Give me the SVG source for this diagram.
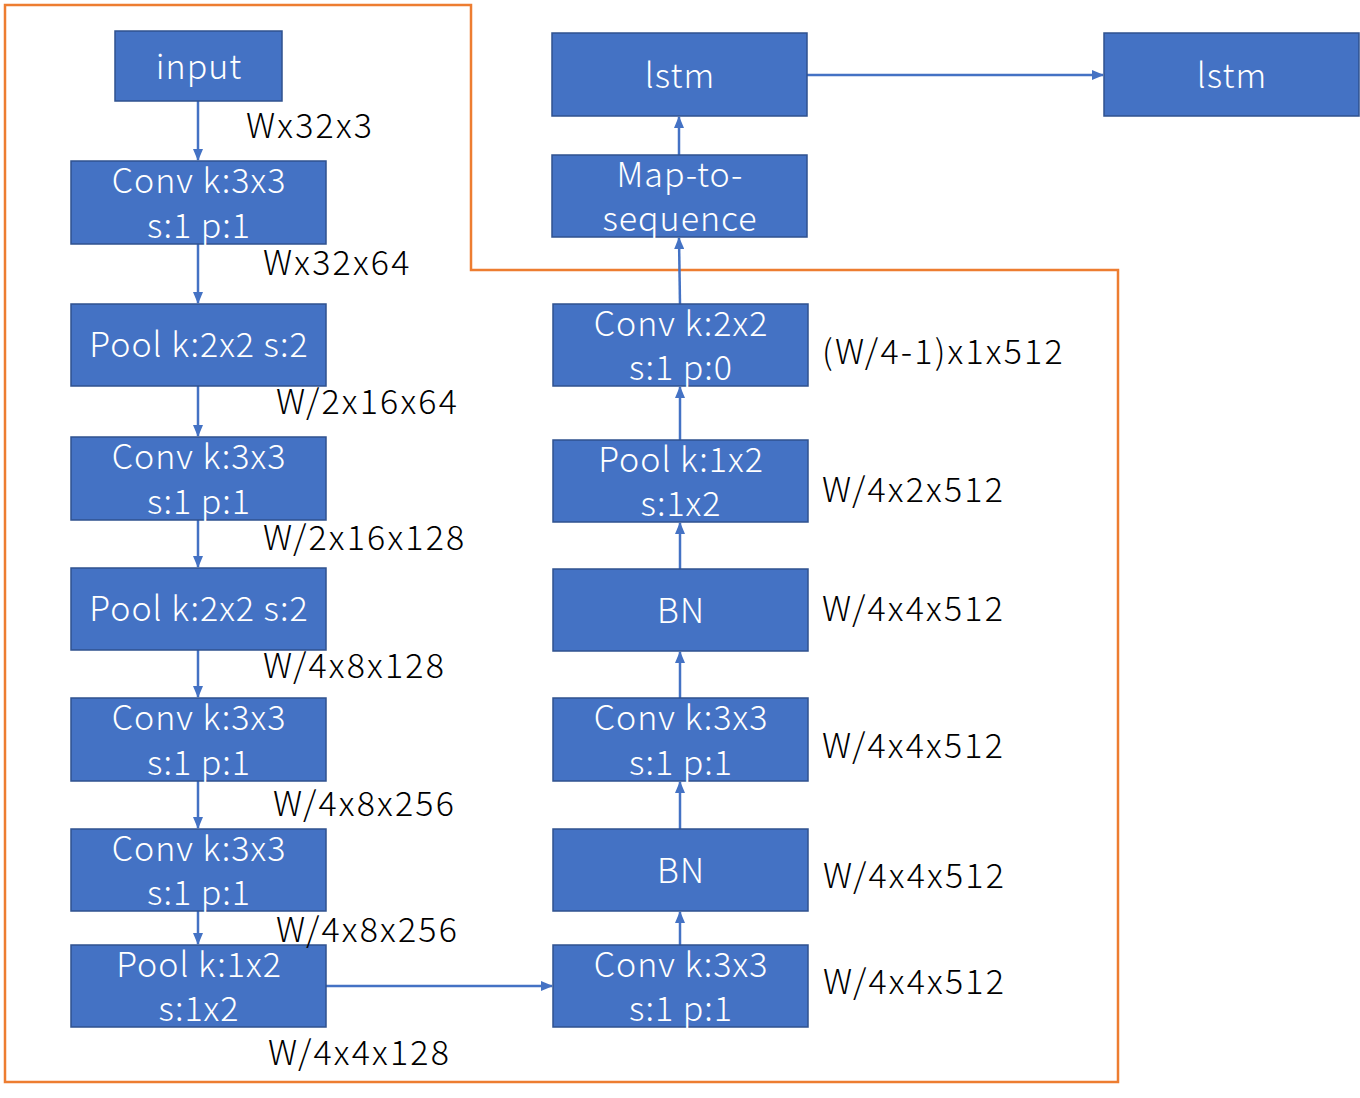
<svg xmlns="http://www.w3.org/2000/svg" width="1360" height="1098" viewBox="0 0 1360 1098">
<defs>
<style>
.box{fill:#4472C4;stroke:#2F528F;stroke-width:1.5}
.bt{fill:#ffffff;font-family:"Noto Sans CJK SC","Noto Sans",sans-serif;font-size:34px;text-anchor:middle;font-weight:300;letter-spacing:1px}
.lb{fill:#000000;font-family:"Noto Sans CJK SC","Noto Sans",sans-serif;font-size:34px;font-weight:300;letter-spacing:2.2px}
.cn{stroke:#4472C4;stroke-width:2.5;fill:none;marker-end:url(#ah)}
.frame{stroke:#ED7D31;stroke-width:2.5;fill:none}
</style>
<marker id="ah" markerWidth="12" markerHeight="10" refX="11" refY="5" orient="auto" markerUnits="userSpaceOnUse">
<path d="M0,0 L12,5 L0,10 Z" fill="#4472C4"/>
</marker>
</defs>
<rect width="1360" height="1098" fill="#ffffff"/>
<g id="frame">
<path class="frame" d="M5,5 H471 V270 H1118 V1082 H5 Z"/>
</g>
<g id="connectors">
<line class="cn" x1="198" y1="101" x2="198" y2="160"/>
<line class="cn" x1="198" y1="244" x2="198" y2="303"/>
<line class="cn" x1="198" y1="386" x2="198" y2="436"/>
<line class="cn" x1="198" y1="520" x2="198" y2="567"/>
<line class="cn" x1="198" y1="650" x2="198" y2="697"/>
<line class="cn" x1="198" y1="781" x2="198" y2="828"/>
<line class="cn" x1="198" y1="911" x2="198" y2="944"/>
<line class="cn" x1="326" y1="986" x2="552" y2="986"/>
<line class="cn" x1="680" y1="945" x2="680" y2="912"/>
<line class="cn" x1="680" y1="829" x2="680" y2="782"/>
<line class="cn" x1="680" y1="698" x2="680" y2="652"/>
<line class="cn" x1="680" y1="569" x2="680" y2="523"/>
<line class="cn" x1="680" y1="440" x2="680" y2="387"/>
<line class="cn" x1="680" y1="304" x2="679" y2="238"/>
<line class="cn" x1="679" y1="155" x2="679" y2="117"/>
<line class="cn" x1="807" y1="75" x2="1103" y2="75"/>
</g>
<g id="n-input"><rect class="box" x="115" y="31" width="167" height="70"/><text class="bt" x="199" y="79">input</text></g>
<g id="n-conv1"><rect class="box" x="71" y="161" width="255" height="83"/><text class="bt" x="199" y="193">Conv k:3x3</text><text class="bt" x="199" y="238">s:1 p:1</text></g>
<g id="n-pool1"><rect class="box" x="71" y="304" width="255" height="82"/><text class="bt" x="199" y="357">Pool k:2x2 s:2</text></g>
<g id="n-conv2"><rect class="box" x="71" y="437" width="255" height="83"/><text class="bt" x="199" y="469">Conv k:3x3</text><text class="bt" x="199" y="514">s:1 p:1</text></g>
<g id="n-pool2"><rect class="box" x="71" y="568" width="255" height="82"/><text class="bt" x="199" y="621">Pool k:2x2 s:2</text></g>
<g id="n-conv3"><rect class="box" x="71" y="698" width="255" height="83"/><text class="bt" x="199" y="730">Conv k:3x3</text><text class="bt" x="199" y="775">s:1 p:1</text></g>
<g id="n-conv4"><rect class="box" x="71" y="829" width="255" height="82"/><text class="bt" x="199" y="861">Conv k:3x3</text><text class="bt" x="199" y="905">s:1 p:1</text></g>
<g id="n-pool3"><rect class="box" x="71" y="945" width="255" height="82"/><text class="bt" x="199" y="977">Pool k:1x2</text><text class="bt" x="199" y="1021">s:1x2</text></g>
<g id="n-conv5"><rect class="box" x="553" y="945" width="255" height="82"/><text class="bt" x="681" y="977">Conv k:3x3</text><text class="bt" x="681" y="1021">s:1 p:1</text></g>
<g id="n-bn1"><rect class="box" x="553" y="829" width="255" height="82"/><text class="bt" x="681" y="883">BN</text></g>
<g id="n-conv6"><rect class="box" x="553" y="698" width="255" height="83"/><text class="bt" x="681" y="730">Conv k:3x3</text><text class="bt" x="681" y="775">s:1 p:1</text></g>
<g id="n-bn2"><rect class="box" x="553" y="569" width="255" height="82"/><text class="bt" x="681" y="623">BN</text></g>
<g id="n-pool4"><rect class="box" x="553" y="440" width="255" height="82"/><text class="bt" x="681" y="472">Pool k:1x2</text><text class="bt" x="681" y="516">s:1x2</text></g>
<g id="n-conv7"><rect class="box" x="553" y="304" width="255" height="82"/><text class="bt" x="681" y="336">Conv k:2x2</text><text class="bt" x="681" y="380">s:1 p:0</text></g>
<g id="n-map"><rect class="box" x="552" y="155" width="255" height="82"/><text class="bt" x="680" y="187" letter-spacing="3">Map-to-</text><text class="bt" x="680" y="231">sequence</text></g>
<g id="n-lstm1"><rect class="box" x="552" y="33" width="255" height="83"/><text class="bt" x="680" y="88">lstm</text></g>
<g id="n-lstm2"><rect class="box" x="1104" y="33" width="255" height="83"/><text class="bt" x="1232" y="88">lstm</text></g>
<g id="labels">
<text class="lb" x="246" y="138">Wx32x3</text>
<text class="lb" x="263" y="275">Wx32x64</text>
<text class="lb" x="276" y="414">W/2x16x64</text>
<text class="lb" x="263" y="550">W/2x16x128</text>
<text class="lb" x="263" y="678">W/4x8x128</text>
<text class="lb" x="273" y="816">W/4x8x256</text>
<text class="lb" x="276" y="942">W/4x8x256</text>
<text class="lb" x="268" y="1065">W/4x4x128</text>
<text class="lb" x="822" y="364">(W/4-1)x1x512</text>
<text class="lb" x="822" y="502">W/4x2x512</text>
<text class="lb" x="822" y="621">W/4x4x512</text>
<text class="lb" x="822" y="758">W/4x4x512</text>
<text class="lb" x="823" y="888">W/4x4x512</text>
<text class="lb" x="823" y="994">W/4x4x512</text>
</g>
</svg>
